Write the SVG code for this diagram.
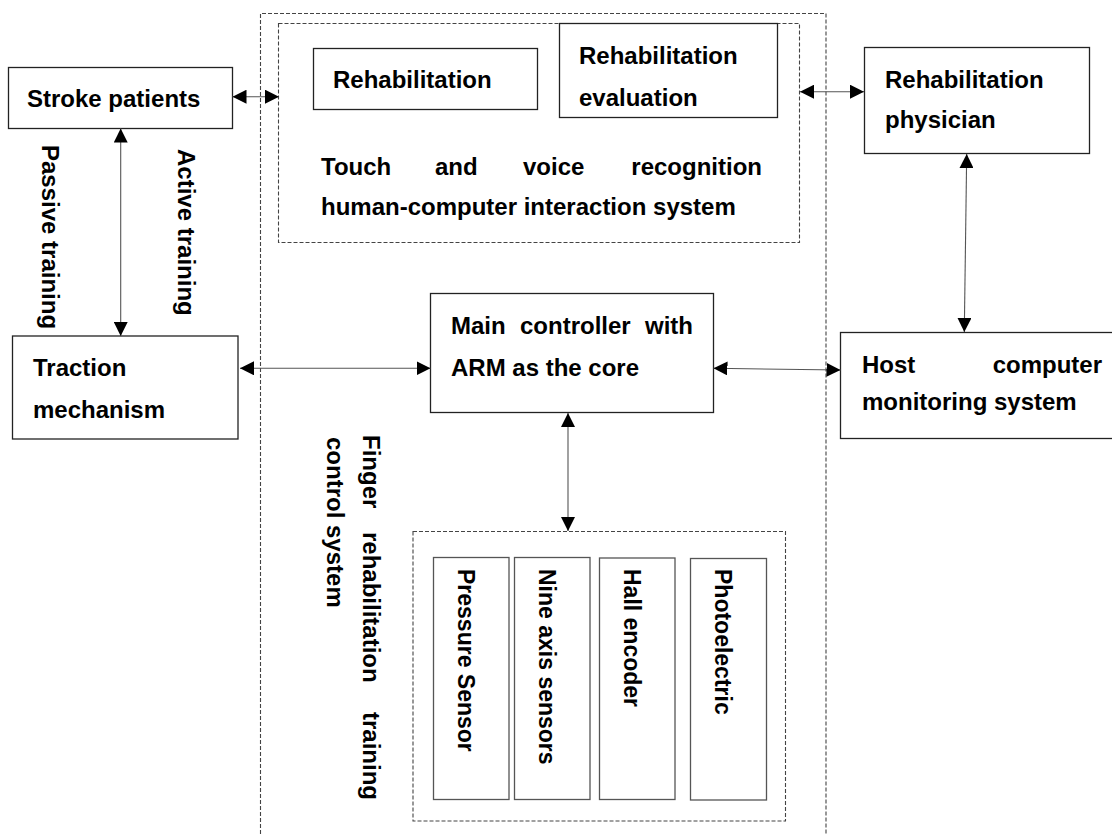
<svg xmlns="http://www.w3.org/2000/svg" width="1112" height="834" viewBox="0 0 1112 834">
<defs>
<style>
text{font-family:"Liberation Sans",Arial,sans-serif;font-weight:bold;font-size:24px;fill:#000}
.s{font-size:23px}
.box{fill:#fff;stroke:#222;stroke-width:1.3}
.sbox{fill:#fff;stroke:#555;stroke-width:1.3}
.dash{fill:none;stroke:#444;stroke-width:1.1;stroke-dasharray:4 2}
.con{fill:none;stroke:#555;stroke-width:1.1;marker-start:url(#ah);marker-end:url(#ah)}
</style>
<marker id="ah" viewBox="0 0 14 14" refX="14" refY="7" markerWidth="14" markerHeight="14" markerUnits="userSpaceOnUse" orient="auto-start-reverse">
<path d="M0,0 L14,7 L0,14 z" fill="#000"/>
</marker>
</defs>
<rect width="1112" height="834" fill="#fff"/>

<g id="finger-system">
<path class="dash" d="M260.5,834 V13.5 H826 V834"/>
<text transform="translate(363,435) rotate(90)"><tspan x="0">Finger</tspan><tspan x="97">rehabilitation</tspan><tspan x="365" text-anchor="end">training</tspan></text>
<text transform="translate(327,437) rotate(90)">control system</text>
</g>

<g id="hci-system">
<rect class="dash" x="278.5" y="23.5" width="521" height="219"/>
<text x="321" y="175">Touch</text>
<text x="435" y="175">and</text>
<text x="523" y="175">voice</text>
<text x="762" y="175" text-anchor="end">recognition</text>
<text x="321" y="215">human-computer interaction system</text>
</g>

<g id="rehabilitation">
<rect class="box" x="313.5" y="48.5" width="224" height="61"/>
<text x="333" y="88">Rehabilitation</text>
</g>

<g id="rehab-evaluation">
<rect class="box" x="559.5" y="23.5" width="218" height="94"/>
<text x="579" y="64">Rehabilitation</text>
<text x="579" y="106">evaluation</text>
</g>

<g id="stroke-patients">
<rect class="box" x="8.5" y="67.5" width="224" height="61"/>
<text x="27" y="107">Stroke patients</text>
</g>

<g id="physician">
<rect class="box" x="864.5" y="47.5" width="225" height="106"/>
<text x="885" y="88">Rehabilitation</text>
<text x="885" y="128">physician</text>
</g>

<g id="traction">
<rect class="box" x="12.5" y="336" width="225.5" height="103"/>
<text x="33" y="376">Traction</text>
<text x="33" y="418">mechanism</text>
</g>

<g id="main-controller">
<rect class="box" x="430.5" y="293.5" width="283" height="119"/>
<text x="451" y="334">Main</text>
<text x="520" y="334">controller</text>
<text x="693" y="334" text-anchor="end">with</text>
<text x="451" y="376">ARM as the core</text>
</g>

<g id="host-computer">
<rect class="box" x="840.5" y="332.5" width="276" height="106"/>
<text x="862" y="373">Host</text>
<text x="1102" y="373" text-anchor="end">computer</text>
<text x="862" y="410">monitoring system</text>
</g>

<g id="sensors">
<rect class="dash" x="413" y="531.5" width="372.5" height="289.5"/>
</g>
<g id="pressure-sensor">
<rect class="sbox" x="433.5" y="557.5" width="75.5" height="242"/>
<text class="s" transform="translate(458,569) rotate(90)">Pressure Sensor</text>
</g>
<g id="nine-axis">
<rect class="sbox" x="514.5" y="557.5" width="75.5" height="242"/>
<text class="s" transform="translate(539,569) rotate(90)">Nine axis sensors</text>
</g>
<g id="hall-encoder">
<rect class="sbox" x="599.5" y="558" width="75.5" height="241.5"/>
<text class="s" transform="translate(624,569) rotate(90)">Hall encoder</text>
</g>
<g id="photoelectric">
<rect class="sbox" x="690.5" y="558.5" width="76" height="241.5"/>
<text class="s" transform="translate(715,569) rotate(90)">Photoelectric</text>
</g>

<g id="training-labels">
<text transform="translate(42,145) rotate(90)">Passive training</text>
<text transform="translate(178,149) rotate(90)">Active training</text>
</g>

<g id="connectors">
<line class="con" x1="232.5" y1="96.7" x2="279" y2="96.7"/>
<line class="con" x1="120.7" y1="128.5" x2="120.7" y2="336"/>
<line class="con" x1="800" y1="91.7" x2="864" y2="91.7"/>
<line class="con" x1="966.7" y1="154" x2="964.3" y2="332"/>
<line class="con" x1="240" y1="368.3" x2="430.5" y2="368.3"/>
<line class="con" x1="713.5" y1="368.3" x2="840.5" y2="370"/>
<line class="con" x1="568" y1="413" x2="568" y2="531"/>
</g>
</svg>
